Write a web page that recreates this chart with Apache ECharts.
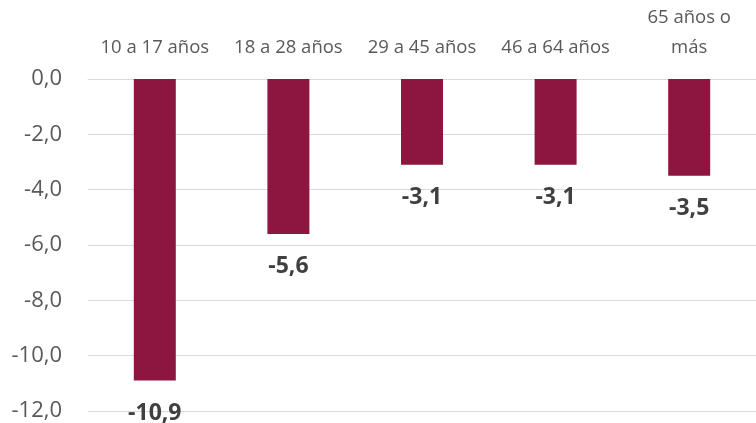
<!DOCTYPE html>
<html><head><meta charset="utf-8">
<script src="https://cdn.jsdelivr.net/npm/echarts@6/dist/echarts.min.js"></script>
<style>html,body{margin:0;padding:0;background:#fff}#c{width:756px;height:423px}</style>
</head><body><div id="c"></div>
<script>
const categories = ['10 a 17 años', '18 a 28 años', '29 a 45 años', '46 a 64 años', '65 años o\nmás'];
const values = [-10.9, -5.6, -3.1, -3.1, -3.5];
const yTicks = { min: -12, max: 0, interval: 2 };

const fmt = v => Number(v).toFixed(1).replace('.', ',');
const chart = echarts.init(document.getElementById('c'));
chart.setOption({
  animation: false,
  textStyle: { fontFamily: 'Open Sans' },
  grid: { left: 88, right: 0, top: 79, bottom: 12, containLabel: false, outerBoundsMode: 'none' },
  xAxis: {
    type: 'category', data: categories, position: 'top',
    axisLine: { show: true, lineStyle: { color: '#d9d9d9', width: 1 } },
    axisTick: { show: false },
    axisLabel: { interval: 0, hideOverlap: false, color: '#595959', fontSize: 18.5, margin: 16, lineHeight: 30, fontFamily: 'Open Sans' }
  },
  yAxis: {
    type: 'value', min: yTicks.min, max: yTicks.max, interval: yTicks.interval,
    axisLine: { show: false }, axisTick: { show: false },
    splitLine: { lineStyle: { color: '#d9d9d9', width: 1 } },
    axisLabel: { color: '#595959', fontSize: 22, margin: 26, formatter: fmt, fontFamily: 'Open Sans' }
  },
  series: [{
    type: 'bar', data: values, barWidth: 42,
    itemStyle: { color: '#8C1640' },
    label: { show: true, position: 'bottom', distance: 21, formatter: p => fmt(p.value),
      color: '#404040', fontSize: 23, fontWeight: 'bold', fontFamily: 'Open Sans' }
  }]
});
</script></body></html>
